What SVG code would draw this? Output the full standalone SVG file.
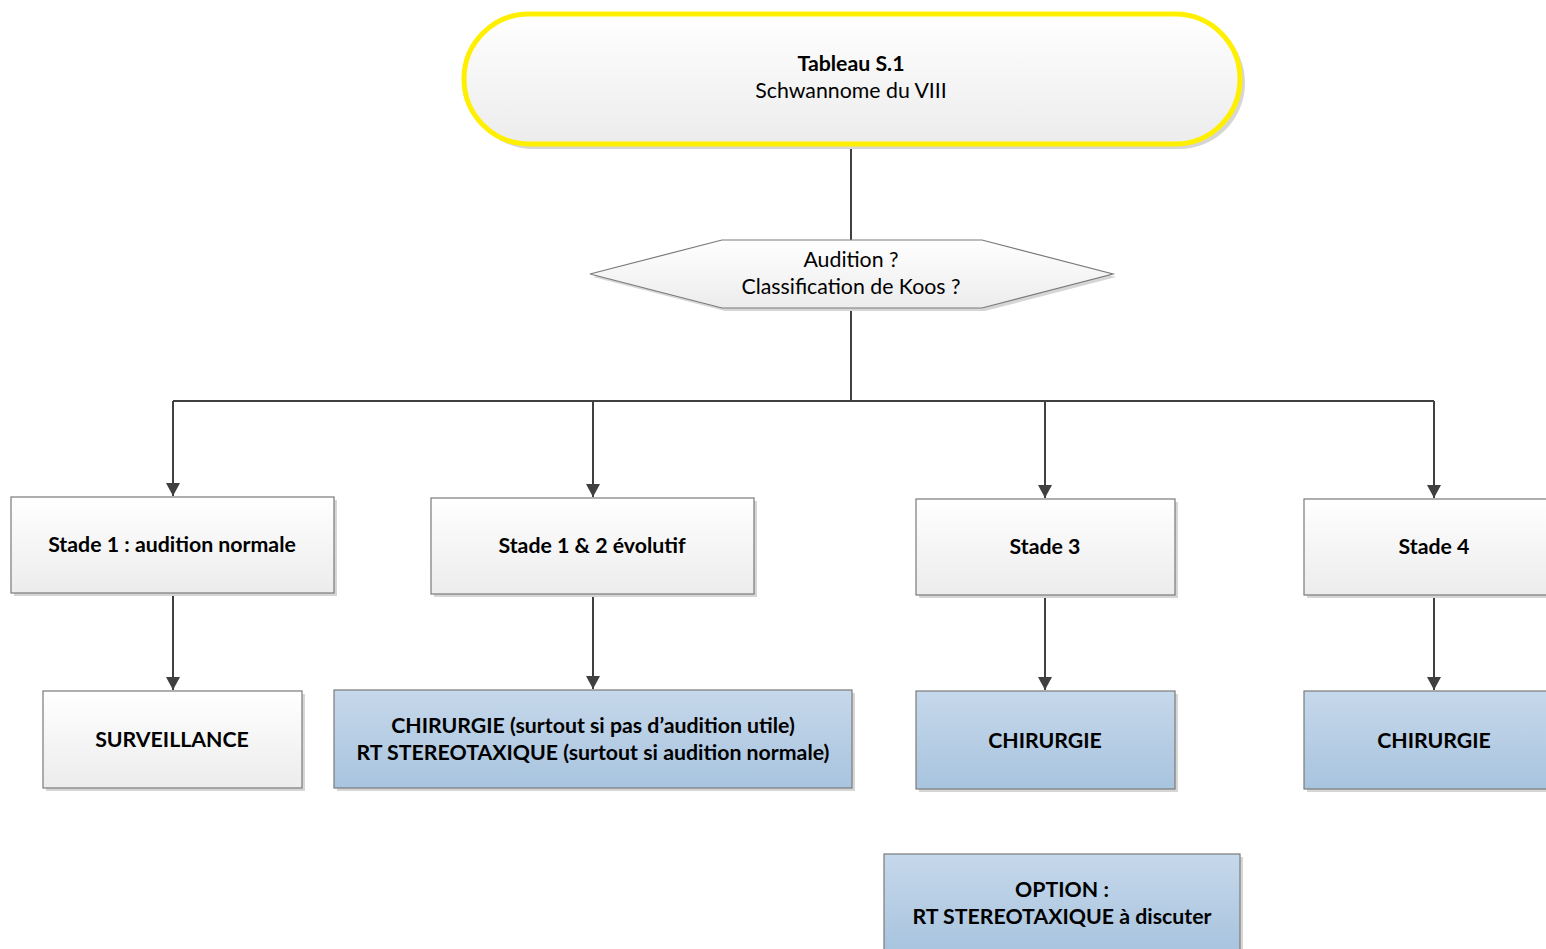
<svg xmlns="http://www.w3.org/2000/svg" width="1546" height="949" viewBox="0 0 1546 949">
<defs>
<linearGradient id="gw" x1="0" y1="0" x2="0" y2="1"><stop offset="0" stop-color="#ffffff"/><stop offset="1" stop-color="#ececec"/></linearGradient>
<linearGradient id="gb" x1="0" y1="0" x2="0" y2="1"><stop offset="0" stop-color="#c6d8eb"/><stop offset="1" stop-color="#a8c4de"/></linearGradient>
<marker id="ah" markerWidth="16" markerHeight="16" refX="13" refY="7" orient="auto" markerUnits="userSpaceOnUse"><path d="M0,0 L13,7 L0,14 Z" fill="#404040"/></marker>
</defs>
<style>
.t{font-family:Lato,"Open Sans","Liberation Sans",sans-serif;font-size:21.3px;fill:#000;text-anchor:middle}
.b{font-weight:bold}
.box{stroke:#7a7a7a;stroke-width:1.2}
.sh{fill:#d6d6d6}
.c{stroke:#404040;stroke-width:2;fill:none}
</style>
<rect width="1546" height="949" fill="#fff"/>
<g id="connectors">
<path class="c" d="M851,145 V240"/>
<path class="c" d="M851,308 V401 M173,401 H1434"/>
<path class="c" d="M173,401 V496" marker-end="url(#ah)"/>
<path class="c" d="M593,401 V497" marker-end="url(#ah)"/>
<path class="c" d="M1045,401 V498" marker-end="url(#ah)"/>
<path class="c" d="M1434,401 V498" marker-end="url(#ah)"/>
<path class="c" d="M173,593 V690" marker-end="url(#ah)"/>
<path class="c" d="M593,594 V689" marker-end="url(#ah)"/>
<path class="c" d="M1045,595 V690" marker-end="url(#ah)"/>
<path class="c" d="M1434,595 V690" marker-end="url(#ah)"/>
</g>
<g id="start">
<rect x="467" y="17" width="778" height="132" rx="66" class="sh"/>
<rect x="464" y="14" width="776" height="130" rx="65" fill="url(#gw)" stroke="#ffef00" stroke-width="5"/>
<text class="t b" x="851" y="71">Tableau S.1</text>
<text class="t" x="851" y="98">Schwannome du VIII</text>
</g>
<g id="decision">
<polygon points="593,277 725,243 985,243 1116,277 985,311 725,311" class="sh"/>
<polygon points="590,274 722,240 982,240 1113,274 982,308 722,308" fill="url(#gw)" stroke="#7a7a7a" stroke-width="1.2"/>
<text class="t" x="851" y="267">Audition ?</text>
<text class="t" x="851" y="294">Classification de Koos ?</text>
</g>
<g id="stade1">
<rect x="14" y="500" width="323" height="96" class="sh"/>
<rect x="11" y="497" width="323" height="96" fill="url(#gw)" class="box"/>
<text class="t b" x="172" y="552">Stade 1 : audition normale</text>
</g>
<g id="stade12">
<rect x="434" y="501" width="323" height="96" class="sh"/>
<rect x="431" y="498" width="323" height="96" fill="url(#gw)" class="box"/>
<text class="t b" x="592" y="553">Stade 1 &amp; 2 évolutif</text>
</g>
<g id="stade3">
<rect x="919" y="502" width="259" height="96" class="sh"/>
<rect x="916" y="499" width="259" height="96" fill="url(#gw)" class="box"/>
<text class="t b" x="1045" y="554">Stade 3</text>
</g>
<g id="stade4">
<rect x="1307" y="502" width="260" height="96" class="sh"/>
<rect x="1304" y="499" width="260" height="96" fill="url(#gw)" class="box"/>
<text class="t b" x="1434" y="554">Stade 4</text>
</g>
<g id="surveillance">
<rect x="46" y="694" width="259" height="97" class="sh"/>
<rect x="43" y="691" width="259" height="97" fill="url(#gw)" class="box"/>
<text class="t b" x="172" y="747">SURVEILLANCE</text>
</g>
<g id="chirurgie12">
<rect x="337" y="693" width="518" height="98" class="sh"/>
<rect x="334" y="690" width="518" height="98" fill="url(#gb)" class="box"/>
<text class="t b" x="593" y="733">CHIRURGIE (surtout si pas d’audition utile)</text>
<text class="t b" x="593" y="760">RT STEREOTAXIQUE (surtout si audition normale)</text>
</g>
<g id="chirurgie3">
<rect x="919" y="694" width="259" height="98" class="sh"/>
<rect x="916" y="691" width="259" height="98" fill="url(#gb)" class="box"/>
<text class="t b" x="1045" y="748">CHIRURGIE</text>
</g>
<g id="chirurgie4">
<rect x="1307" y="694" width="260" height="98" class="sh"/>
<rect x="1304" y="691" width="260" height="98" fill="url(#gb)" class="box"/>
<text class="t b" x="1434" y="748">CHIRURGIE</text>
</g>
<g id="option">
<rect x="887" y="857" width="356" height="97" class="sh"/>
<rect x="884" y="854" width="356" height="97" fill="url(#gb)" class="box"/>
<text class="t b" x="1062" y="897">OPTION :</text>
<text class="t b" x="1062" y="924">RT STEREOTAXIQUE à discuter</text>
</g>
</svg>
